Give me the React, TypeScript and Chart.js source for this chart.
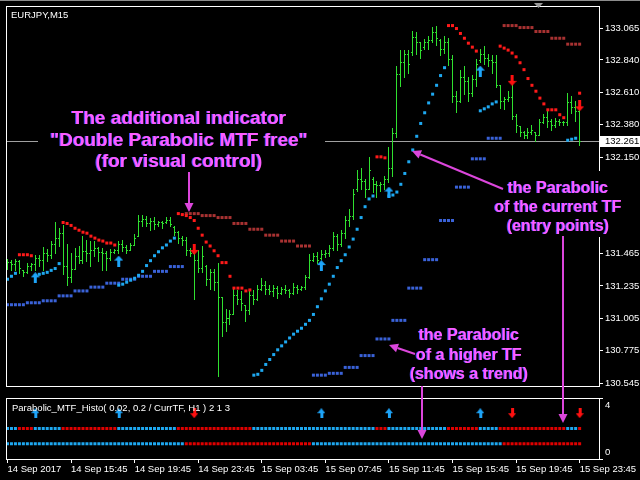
import React, { useEffect, useRef } from 'react';
import { Chart, registerables } from 'chart.js';

Chart.register(...registerables);

// ---------- data (EURJPY M15, bar index 0 = 14 Sep 11:45) ----------
const highs = [131.429,131.422,131.429,131.422,131.352,131.401,131.401,131.457,131.457,131.512,
131.499,131.554,131.686,131.645,131.665,131.533,131.471,131.506,131.519,131.589,
131.561,131.554,131.554,131.512,131.506,131.485,131.499,131.499,131.554,131.561,
131.526,131.540,131.603,131.742,131.742,131.735,131.721,131.728,131.700,131.693,
131.728,131.728,131.659,131.624,131.589,131.582,131.506,131.506,131.492,131.519,
131.387,131.359,131.359,131.401,131.158,131.074,131.067,131.213,131.207,131.200,
131.102,131.200,131.207,131.241,131.290,131.269,131.241,131.241,131.234,131.227,
131.241,131.213,131.255,131.241,131.234,131.311,131.464,131.471,131.478,131.492,
131.492,131.526,131.617,131.603,131.631,131.735,131.784,131.923,132.062,132.076,
131.992,132.152,132.006,131.978,131.971,132.013,132.222,132.354,132.799,132.910,
132.910,132.910,133.042,133.035,132.966,132.987,133.008,133.077,133.084,132.987,
133.008,132.994,132.875,132.618,132.771,132.799,132.722,132.736,132.848,132.917,
132.938,132.882,132.875,132.875,132.660,132.576,132.618,132.702,132.458,132.368,
132.333,132.354,132.375,132.326,132.423,132.458,132.479,132.423,132.430,132.423,
132.410,132.604,132.583,132.549,132.514];

const lows = [131.359,131.352,131.346,131.325,131.304,131.325,131.352,131.352,131.380,131.346,
131.415,131.436,131.471,131.519,131.318,131.241,131.262,131.359,131.401,131.401,
131.415,131.380,131.450,131.415,131.346,131.346,131.422,131.471,131.471,131.485,
131.471,131.492,131.526,131.589,131.659,131.659,131.631,131.638,131.659,131.645,
131.679,131.659,131.596,131.540,131.526,131.457,131.450,131.144,131.332,131.332,
131.241,131.213,131.207,130.595,130.880,130.914,130.963,131.033,131.109,131.067,
130.984,131.033,131.109,131.137,131.207,131.179,131.179,131.165,131.151,131.179,
131.186,131.158,131.179,131.186,131.207,131.213,131.290,131.415,131.401,131.429,
131.443,131.450,131.492,131.492,131.519,131.575,131.659,131.714,131.909,131.923,
131.867,131.923,131.902,131.867,131.909,131.923,131.971,132.013,132.291,132.653,
132.722,132.750,132.875,132.882,132.855,132.917,132.917,132.966,132.945,132.875,
132.889,132.806,132.542,132.472,132.542,132.597,132.549,132.583,132.653,132.827,
132.813,132.799,132.750,132.646,132.500,132.493,132.549,132.423,132.326,132.298,
132.284,132.284,132.312,132.264,132.305,132.389,132.361,132.340,132.361,132.375,
132.375,132.375,132.465,132.410,132.236];

const opens = [131.380,131.408,131.394,131.415,131.352,131.332,131.380,131.394,131.436,131.422,
131.471,131.457,131.533,131.575,131.610,131.380,131.297,131.359,131.450,131.422,
131.485,131.471,131.492,131.506,131.478,131.471,131.436,131.478,131.492,131.533,
131.512,131.492,131.526,131.589,131.700,131.714,131.679,131.693,131.672,131.686,
131.686,131.707,131.652,131.617,131.575,131.561,131.492,131.471,131.422,131.366,
131.380,131.283,131.332,131.262,131.158,130.977,131.005,131.033,131.172,131.144,
131.102,131.067,131.172,131.144,131.213,131.241,131.213,131.200,131.220,131.186,
131.213,131.207,131.186,131.227,131.213,131.227,131.297,131.422,131.450,131.436,
131.464,131.471,131.506,131.589,131.533,131.610,131.707,131.735,131.923,131.992,
131.978,131.923,131.992,131.957,131.951,131.957,131.992,132.076,132.319,132.743,
132.827,132.882,132.896,133.001,132.966,132.931,132.966,132.980,133.035,132.980,
132.917,132.966,132.848,132.583,132.549,132.716,132.688,132.604,132.702,132.841,
132.882,132.855,132.841,132.827,132.660,132.549,132.563,132.576,132.444,132.368,
132.326,132.305,132.326,132.326,132.305,132.396,132.437,132.410,132.375,132.410,
132.396,132.396,132.542,132.507,132.479];

const closes = [131.408,131.394,131.415,131.366,131.332,131.380,131.394,131.436,131.422,131.471,
131.457,131.533,131.575,131.610,131.380,131.297,131.359,131.450,131.422,131.485,
131.471,131.492,131.506,131.478,131.471,131.436,131.478,131.492,131.533,131.512,
131.492,131.526,131.575,131.700,131.714,131.679,131.693,131.672,131.686,131.679,
131.707,131.672,131.617,131.575,131.561,131.492,131.471,131.422,131.366,131.450,
131.283,131.332,131.262,131.158,130.977,131.005,131.033,131.172,131.144,131.116,
131.067,131.172,131.144,131.213,131.241,131.213,131.200,131.220,131.186,131.213,
131.207,131.186,131.227,131.213,131.227,131.297,131.422,131.450,131.422,131.464,
131.471,131.506,131.589,131.533,131.610,131.707,131.735,131.888,131.992,131.978,
131.923,132.062,131.957,131.951,131.957,131.992,132.076,132.319,132.743,132.827,
132.882,132.813,133.001,132.966,132.910,132.966,132.980,133.035,132.994,132.917,
132.966,132.848,132.583,132.549,132.716,132.688,132.604,132.702,132.813,132.882,
132.855,132.841,132.827,132.660,132.549,132.563,132.576,132.444,132.375,132.326,
132.305,132.326,132.340,132.305,132.396,132.437,132.410,132.375,132.410,132.396,
132.396,132.542,132.507,132.479,132.261];

// Parabolic SAR of the current timeframe (M15), one value per bar
const sarCurrent = [131.283,131.304,131.325,131.457,131.457,131.457,131.450,131.311,131.318,131.325,
131.332,131.346,131.359,131.394,131.686,131.679,131.665,131.645,131.631,131.617,
131.610,131.589,131.575,131.561,131.554,131.540,131.540,131.526,131.241,131.248,
131.262,131.276,131.290,131.311,131.339,131.380,131.415,131.450,131.478,131.506,
131.526,131.554,131.575,131.749,131.742,131.735,131.721,131.700,131.645,131.596,
131.547,131.519,131.485,131.450,131.401,131.401,131.304,131.220,131.220,131.220,
131.200,131.207,130.602,130.608,130.636,130.678,130.713,130.748,130.782,130.810,
130.838,130.866,130.893,130.914,130.935,130.963,130.991,131.033,131.088,131.144,
131.200,131.248,131.304,131.366,131.415,131.457,131.512,131.568,131.638,131.721,
131.798,131.853,131.874,132.152,132.152,132.145,131.874,131.881,131.902,131.957,
132.034,132.117,132.201,132.298,132.389,132.465,132.535,132.597,132.660,132.729,
132.785,133.084,133.084,133.063,133.028,132.994,132.959,132.931,132.903,132.479,
132.493,132.507,132.528,132.542,132.938,132.924,132.910,132.889,132.862,132.820,
132.771,132.708,132.660,132.618,132.569,132.528,132.486,132.486,132.486,132.451,
132.430,132.270,132.277,132.284,132.604];

// Parabolic SAR of the higher timeframe (H1), one value per M15 bar
const sarHigher = [131.102,131.102,131.102,131.102,131.102,
131.116,131.116,131.116,131.116,131.130,131.130,131.130,131.130,
131.165,131.165,131.165,131.165,131.200,131.200,131.200,131.200,
131.227,131.227,131.227,131.227,131.255,131.255,131.255,131.255,
131.283,131.283,131.283,131.283,131.304,131.304,131.304,131.304,
131.339,131.339,131.339,131.339,131.373,131.373,131.373,131.373,
131.749,131.749,131.749,131.749,131.735,131.735,131.735,131.735,
131.721,131.721,131.721,131.721,131.679,131.679,131.679,131.679,
131.638,131.638,131.638,131.638,131.596,131.596,131.596,131.596,
131.554,131.554,131.554,131.554,131.519,131.519,131.519,131.519,
130.602,130.602,130.602,130.602,130.615,130.615,130.615,130.615,
130.657,130.657,130.657,130.657,130.741,130.741,130.741,130.741,
130.859,130.859,130.859,130.859,130.991,130.991,130.991,130.991,
131.220,131.220,131.220,131.220,131.422,131.422,131.422,131.422,
131.700,131.700,131.700,131.700,131.937,131.937,131.937,131.937,
132.138,132.138,132.138,132.138,132.284,132.284,132.284,132.284,
133.084,133.084,133.084,133.084,133.070,133.070,133.070,133.070,
133.042,133.042,133.042,133.042,132.994,132.994,132.994,132.994,
132.952,132.952,132.952,132.952];

const buyBars = [7, 28, 79, 96, 119];
const buyArrowPrices = [131.293, 131.412, 131.380, 131.902, 132.761];
const sellBars = [47, 127, 144];
const sellArrowPrices = [131.495, 132.695, 132.514];

const priceTicks = [130.545, 130.775, 131.005, 131.235, 131.465, 131.690, 131.920, 132.150, 132.380, 132.610, 132.840, 133.065];
const lastPrice = 132.261;
const timeTickBars = [0, 16, 32, 48, 64, 80, 96, 112, 128, 144];
const timeTickLabels = ['14 Sep 2017', '14 Sep 15:45', '14 Sep 19:45', '14 Sep 23:45', '15 Sep 03:45', '15 Sep 07:45', '15 Sep 11:45', '15 Sep 15:45', '15 Sep 19:45', '15 Sep 23:45'];
const histAxisLevels = [0, 4];
const histRowCurrent = 2;
const histRowHigher = 1;
const histArrowLevel = 3;

const X_MIN = -0.375;
const X_MAX = 148.875;
const Y_MIN = 130.525;
const Y_MAX = 133.223;

// ---------- styles ----------
const FONT = '"Liberation Sans", Arial, sans-serif';
const BAR_GREEN = '#2fe02f';
const SAR_UP = '#1ea8f0';
const SAR_DN = '#ff1a1a';
const HTF_UP = '#3a62d8';
const HTF_DN = '#a83232';
const HIST_UP = '#1ea8f0';
const HIST_DN = '#e00000';
const ARROW_BLUE = '#1ea4f8';
const ARROW_RED = '#ff1010';
const MAGENTA = '#ff5cff';
const MAGENTA_LINE = '#dc46dc';

const curDown = (i: number) => sarCurrent[i] > highs[i];
const htfDown = (i: number) => sarHigher[i] > highs[i];
const barIdx = highs.map((_, i) => i);

function makeArrow(color: string, up: boolean, w: number, h: number) {
  const c = document.createElement('canvas');
  c.width = w;
  c.height = h;
  const g = c.getContext('2d')!;
  g.fillStyle = color;
  const head = Math.round(h * 0.45);
  const s0 = Math.floor(w / 2) - 1;
  const s1 = s0 + 3;
  g.beginPath();
  if (up) {
    g.moveTo(w / 2, 0); g.lineTo(w, head); g.lineTo(s1, head); g.lineTo(s1, h);
    g.lineTo(s0, h); g.lineTo(s0, head); g.lineTo(0, head);
  } else {
    g.moveTo(w / 2, h); g.lineTo(w, h - head); g.lineTo(s1, h - head); g.lineTo(s1, 0);
    g.lineTo(s0, 0); g.lineTo(s0, h - head); g.lineTo(0, h - head);
  }
  g.closePath();
  g.fill();
  return c;
}

const mainPlugin = {
  id: 'mainPanel',
  beforeDatasetsDraw(chart: any) {
    const { ctx, chartArea, scales } = chart;
    const xs = scales.x, ys = scales.y;
    ctx.save();
    const py = Math.round(ys.getPixelForValue(lastPrice)) + 0.5;
    ctx.strokeStyle = '#a0a0a0';
    ctx.lineWidth = 1;
    ctx.beginPath();
    ctx.moveTo(chartArea.left, py);
    ctx.lineTo(chartArea.right, py);
    ctx.stroke();
    ctx.fillStyle = BAR_GREEN;
    for (let i = 0; i < highs.length; i++) {
      const px = Math.floor(xs.getPixelForValue(i));
      const hy = Math.round(ys.getPixelForValue(highs[i]));
      const ly = Math.round(ys.getPixelForValue(lows[i]));
      const oy = Math.round(ys.getPixelForValue(opens[i]));
      const cy = Math.round(ys.getPixelForValue(closes[i]));
      ctx.fillRect(px, hy, 1, Math.max(1, ly - hy + 1));
      ctx.fillRect(px - 1, oy, 1, 1);
      ctx.fillRect(px + 1, cy, 1, 1);
    }
    ctx.restore();
  },
  afterDraw(chart: any) {
    const { ctx, chartArea, scales } = chart;
    const ys = scales.y;
    ctx.save();
    ctx.strokeStyle = '#ffffff';
    ctx.lineWidth = 1;
    ctx.strokeRect(chartArea.left + 0.5, chartArea.top + 0.5, chartArea.right - chartArea.left, chartArea.bottom - chartArea.top);
    ctx.fillStyle = '#ffffff';
    ctx.font = `9.5px ${FONT}`;
    ctx.textBaseline = 'alphabetic';
    ctx.textAlign = 'left';
    ctx.fillText('EURJPY,M15', chartArea.left + 5, chartArea.top + 12);
    const py = Math.round(ys.getPixelForValue(lastPrice));
    ctx.fillRect(chartArea.right + 1, py - 5, 40, 11);
    ctx.fillStyle = '#000000';
    ctx.textBaseline = 'middle';
    ctx.fillText(lastPrice.toFixed(3), chartArea.right + 6, py + 0.5);
    ctx.restore();
  },
};

const histPlugin = {
  id: 'histPanel',
  afterDraw(chart: any) {
    const { ctx, chartArea, scales } = chart;
    const ys = scales.y;
    ctx.save();
    ctx.strokeStyle = '#ffffff';
    ctx.lineWidth = 1;
    ctx.strokeRect(chartArea.left + 0.5, chartArea.top + 0.5, chartArea.right - chartArea.left, chartArea.bottom - chartArea.top);
    ctx.fillStyle = '#ffffff';
    ctx.font = `9.5px ${FONT}`;
    ctx.textAlign = 'left';
    ctx.textBaseline = 'middle';
    ctx.fillText('Parabolic_MTF_Histo( 0.02, 0.2 / CurrTF, H1 ) 2 1 3', chartArea.left + 6, chartArea.top + 10);
    histAxisLevels.forEach((v) => {
      const y = ys.getPixelForValue(v);
      const off = v === histAxisLevels[histAxisLevels.length - 1] ? 7 : -7;
      ctx.fillText(String(v), chartArea.right + 6, y + off);
    });
    ctx.restore();
  },
};

function drawOverlay(cv: HTMLCanvasElement) {
  const g = cv.getContext('2d')!;
  g.clearRect(0, 0, cv.width, cv.height);
  g.fillStyle = '#8c8c8c';
  g.fillRect(0, 0, 640, 1);
  g.fillStyle = '#9a9a9a';
  g.beginPath(); g.moveTo(534, 3); g.lineTo(543, 3); g.lineTo(538.5, 8); g.closePath(); g.fill();

  g.fillStyle = '#000000';
  g.fillRect(38, 105, 287, 68);
  g.fillRect(496, 171, 144, 66);
  g.fillRect(406, 324, 128, 62);

  const text = (lines: string[], cx: number, bases: number[], size: number) => {
    g.font = `bold ${size}px ${FONT}`;
    g.textAlign = 'center';
    g.textBaseline = 'alphabetic';
    lines.forEach((t, k) => {
      g.fillStyle = '#4a4aff';
      g.fillText(t, cx - 1, bases[k]);
      g.fillStyle = MAGENTA;
      g.fillText(t, cx, bases[k]);
    });
  };
  text(['The additional indicator', '"Double Parabolic MTF free"', '(for visual control)'], 179, [124, 146, 167], 19);
  text(['the Parabolic', 'of the current TF', '(entry points)'], 558, [193, 212, 231], 16);
  text(['the Parabolic', 'of a higher TF', '(shows a trend)'], 469, [340, 360, 379], 16);

  const arrow = (x1: number, y1: number, x2: number, y2: number) => {
    const a = Math.atan2(y2 - y1, x2 - x1);
    const L = 9, W = 4.5;
    const bx = x2 - L * Math.cos(a), by = y2 - L * Math.sin(a);
    g.strokeStyle = MAGENTA_LINE;
    g.fillStyle = MAGENTA_LINE;
    g.lineWidth = 2;
    g.beginPath(); g.moveTo(x1, y1); g.lineTo(bx, by); g.stroke();
    g.beginPath();
    g.moveTo(x2, y2);
    g.lineTo(bx + W * Math.sin(a), by - W * Math.cos(a));
    g.lineTo(bx - W * Math.sin(a), by + W * Math.cos(a));
    g.closePath(); g.fill();
  };
  arrow(189, 172, 189, 212);
  arrow(503, 189, 412, 151);
  arrow(563, 236, 563, 423);
  arrow(415, 354, 389, 345);
  arrow(422, 386, 422, 439);
}

export default function App() {
  const mainRef = useRef<HTMLCanvasElement>(null);
  const histRef = useRef<HTMLCanvasElement>(null);
  const overRef = useRef<HTMLCanvasElement>(null);

  useEffect(() => {
    const upBig = makeArrow(ARROW_BLUE, true, 9, 11);
    const dnBig = makeArrow(ARROW_RED, false, 9, 11);
    const upSmall = makeArrow(ARROW_BLUE, true, 8, 10);
    const dnSmall = makeArrow(ARROW_RED, false, 8, 10);

    const tickFont = { family: FONT, size: 9.5 };

    const main = new Chart(mainRef.current!, {
      type: 'scatter',
      data: {
        datasets: [
          { label: 'buy', data: buyBars.map((b, k) => ({ x: b, y: buyArrowPrices[k] })), pointStyle: upBig as any, pointRadius: 5 },
          { label: 'sell', data: sellBars.map((b, k) => ({ x: b, y: sellArrowPrices[k] })), pointStyle: dnBig as any, pointRadius: 5 },
          {
            label: 'SAR current TF', data: barIdx.map((i) => ({ x: i, y: sarCurrent[i] })),
            pointStyle: 'rect', pointRadius: 2.13, pointBorderWidth: 0,
            pointBackgroundColor: (c: any) => (curDown(c.dataIndex) ? SAR_DN : SAR_UP),
          },
          {
            label: 'SAR higher TF', data: barIdx.map((i) => ({ x: i, y: sarHigher[i] })),
            pointStyle: 'rect', pointRadius: 2.13, pointBorderWidth: 0,
            pointBackgroundColor: (c: any) => (htfDown(c.dataIndex) ? HTF_DN : HTF_UP),
          },
        ],
      },
      options: {
        animation: false,
        responsive: false,
        maintainAspectRatio: false,
        devicePixelRatio: 1,
        events: [],
        layout: { padding: { left: 2, top: 3, right: 0, bottom: 1 } },
        plugins: { legend: { display: false }, tooltip: { enabled: false } },
        scales: {
          x: { type: 'linear', display: false, min: X_MIN, max: X_MAX },
          y: {
            type: 'linear', position: 'right', min: Y_MIN, max: Y_MAX,
            afterBuildTicks: (s: any) => { s.ticks = priceTicks.map((v) => ({ value: v })); },
            afterFit: (s: any) => { s.width = 41; s.paddingTop = 0; s.paddingBottom = 0; },
            ticks: { color: '#ffffff', padding: 2, font: tickFont, callback: (v: any) => Number(v).toFixed(3) },
            grid: { drawOnChartArea: false, drawTicks: true, tickLength: 4, color: '#ffffff' },
            border: { display: true, color: '#ffffff' },
          },
        },
      } as any,
      plugins: [mainPlugin],
    });

    const hist = new Chart(histRef.current!, {
      type: 'scatter',
      data: {
        datasets: [
          { label: 'buy', data: buyBars.map((b) => ({ x: b, y: histArrowLevel })), pointStyle: upSmall as any, pointRadius: 5 },
          { label: 'sell', data: sellBars.map((b) => ({ x: b, y: histArrowLevel })), pointStyle: dnSmall as any, pointRadius: 5 },
          {
            label: 'current TF trend', data: barIdx.map((i) => ({ x: i, y: histRowCurrent })),
            pointStyle: 'rect', pointRadius: 2.13, pointBorderWidth: 0,
            pointBackgroundColor: (c: any) => (curDown(c.dataIndex) ? HIST_DN : HIST_UP),
          },
          {
            label: 'higher TF trend', data: barIdx.map((i) => ({ x: i, y: histRowHigher })),
            pointStyle: 'rect', pointRadius: 2.13, pointBorderWidth: 0,
            pointBackgroundColor: (c: any) => (htfDown(c.dataIndex) ? HIST_DN : HIST_UP),
          },
        ],
      },
      options: {
        animation: false,
        responsive: false,
        maintainAspectRatio: false,
        devicePixelRatio: 1,
        events: [],
        layout: { padding: { left: 2, top: 1, right: 0, bottom: 0 } },
        plugins: { legend: { display: false }, tooltip: { enabled: false } },
        scales: {
          x: {
            type: 'linear', position: 'bottom', min: X_MIN, max: X_MAX,
            afterBuildTicks: (s: any) => { s.ticks = timeTickBars.map((v) => ({ value: v })); },
            afterFit: (s: any) => { s.height = 21; s.paddingLeft = 0; s.paddingRight = 0; },
            ticks: {
              color: '#ffffff', align: 'start', autoSkip: false, maxRotation: 0, minRotation: 0, padding: 1, font: tickFont,
              callback: (_v: any, i: number) => timeTickLabels[i] ?? '',
            },
            grid: { drawOnChartArea: false, drawTicks: true, tickLength: 4, color: '#ffffff' },
            border: { display: true, color: '#ffffff' },
          },
          y: {
            type: 'linear', position: 'right', min: 0, max: 4,
            afterBuildTicks: (s: any) => { s.ticks = histAxisLevels.map((v) => ({ value: v })); },
            afterFit: (s: any) => { s.width = 41; s.paddingTop = 0; s.paddingBottom = 0; },
            ticks: { color: '#ffffff', padding: 2, font: tickFont, callback: () => '' },
            grid: { drawOnChartArea: false, drawTicks: true, tickLength: 4, color: '#ffffff' },
            border: { display: true, color: '#ffffff' },
          },
        },
      } as any,
      plugins: [histPlugin],
    });

    drawOverlay(overRef.current!);

    return () => {
      main.destroy();
      hist.destroy();
    };
  }, []);

  return (
    <div style={{ position: 'fixed', left: 0, top: 0, width: 640, height: 480, background: '#000', overflow: 'hidden' }}>
      <canvas ref={mainRef} width={640} height={392} style={{ position: 'absolute', left: 0, top: 0, width: 640, height: 392 }} />
      <canvas ref={histRef} width={640} height={88} style={{ position: 'absolute', left: 0, top: 392, width: 640, height: 88 }} />
      <canvas ref={overRef} width={640} height={480} style={{ position: 'absolute', left: 0, top: 0, width: 640, height: 480, pointerEvents: 'none' }} />
    </div>
  );
}
